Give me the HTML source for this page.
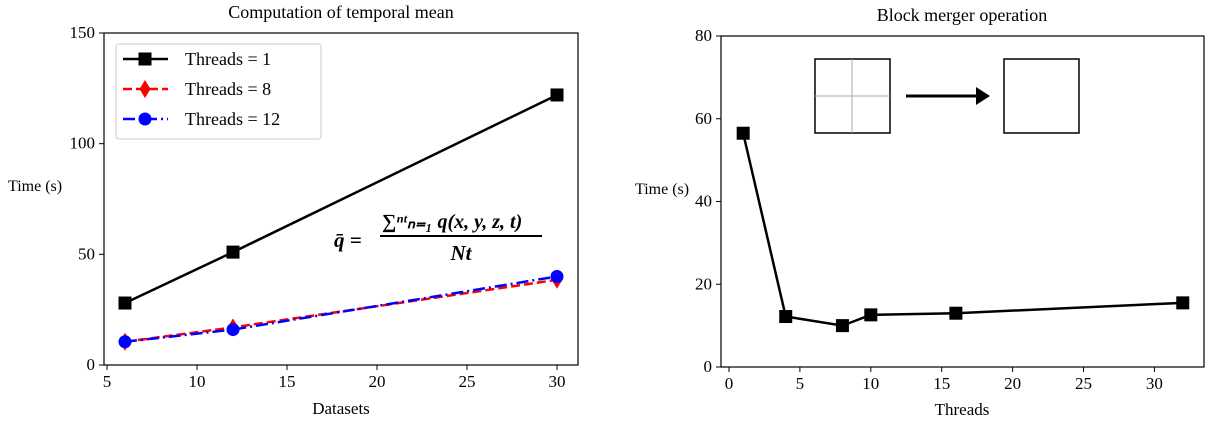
<!DOCTYPE html>
<html><head><meta charset="utf-8"><style>
body{margin:0;background:#fff}
svg text{font-family:"Liberation Serif",serif;fill:#000}
</style></head><body>
<svg width="1209" height="420" xmlns="http://www.w3.org/2000/svg">
<g id="left"></g>
<g id="right"></g>
</svg>
<script>
const leftX=[6,12,30];
const t1=[28,51,122];
const t8=[10.5,17,38.5];
const t12=[10.5,16,40];
const leftXTicks=[5,10,15,20,25,30];
const leftYTicks=[0,50,100,150];
const rightX=[1,4,8,10,16,32];
const rightY=[56.5,12.2,10,12.6,13,15.5];
const rightXTicks=[0,5,10,15,20,25,30];
const rightYTicks=[0,20,40,60,80];
const NS="http://www.w3.org/2000/svg";
function mk(p,tag,a,txt){const e=document.createElementNS(NS,tag);for(const k in a)e.setAttribute(k,a[k]);if(txt!==undefined)e.textContent=txt;p.appendChild(e);return e;}
function marker(g,type,x,y,c){let e;
 if(type==='s')e=mk(g,'rect',{x:x-6.5,y:y-6.5,width:13,height:13,fill:c});
 else if(type==='d')e=mk(g,'polygon',{points:`${x},${y-9} ${x+5.5},${y} ${x},${y+9} ${x-5.5},${y}`,fill:c});
 else e=mk(g,'circle',{cx:x,cy:y,r:6.5,fill:c});
 
 }
const L=document.getElementById('left');
const lx=v=>233+(v-12)*18, ly=v=>365-v*(365-33)/150;
function series(g,xs,ys,fx,fy,c,dash,m,name){
 const pl=mk(g,'polyline',{points:xs.map((v,i)=>fx(v)+','+fy(ys[i])).join(' '),fill:'none',stroke:c,'stroke-width':2.5,'stroke-dasharray':dash});
 
 
 xs.forEach((v,i)=>marker(g,m,fx(v),fy(ys[i]),c));}
series(L,leftX,t1,lx,ly,'#000','none','s','series-threads-1');
series(L,leftX,t8,lx,ly,'#f00','9 4','d','series-threads-8');
series(L,leftX,t12,lx,ly,'#00f','12 4 2 4','o','series-threads-12');
mk(L,'rect',{x:104,y:33,width:474,height:332,fill:'none',stroke:'#000','stroke-width':1.2});
leftXTicks.forEach(v=>{mk(L,'line',{x1:lx(v),x2:lx(v),y1:365,y2:370,stroke:'#000'});mk(L,'text',{x:lx(v),y:387,'text-anchor':'middle','font-size':17},v);});
leftYTicks.forEach(v=>{mk(L,'line',{x1:99,x2:104,y1:ly(v),y2:ly(v),stroke:'#000'});mk(L,'text',{x:95,y:ly(v)+5,'text-anchor':'end','font-size':17},v);});
mk(L,'text',{x:341,y:18,'text-anchor':'middle','font-size':18},'Computation of temporal mean');
mk(L,'text',{x:341,y:414,'text-anchor':'middle','font-size':17},'Datasets');
mk(L,'text',{x:8,y:191,'font-size':16},'Time (s)');
const lg=mk(L,'g',{});
mk(lg,'rect',{x:116,y:44,width:205,height:95,rx:3,fill:'#fff',stroke:'#ccc','stroke-width':1});
[['Threads = 1','#000','none','s'],['Threads = 8','#f00','9 4','d'],['Threads = 12','#00f','12 4 2 4','o']].forEach((r,i)=>{const y=59+i*30;
 mk(lg,'line',{x1:123,x2:168,y1:y,y2:y,stroke:r[1],'stroke-width':2.5,'stroke-dasharray':r[2]});
 marker(lg,r[3],145,y,r[1]);
 mk(lg,'text',{x:185,y:y+6,'font-size':18},r[0]);});
const fg=mk(L,'g',{'font-weight':'bold','font-style':'italic'});
mk(fg,'text',{x:334,y:247,'font-size':21},'q̄ =');
mk(fg,'text',{x:382,y:228,'font-size':20},'∑ⁿᵗₙ₌₁ q(x, y, z, t)');
mk(fg,'line',{x1:380,x2:542,y1:236,y2:236,stroke:'#000','stroke-width':2});
mk(fg,'text',{x:461,y:260,'font-size':21,'text-anchor':'middle'},'Nt');
const R=document.getElementById('right');
const rx=v=>729+v*14.18, ry=v=>367-v*(367-36)/80;
series(R,rightX,rightY,rx,ry,'#000','none','s','series-block-merger');
mk(R,'rect',{x:721,y:36,width:483,height:331,fill:'none',stroke:'#000','stroke-width':1.2});
rightXTicks.forEach(v=>{mk(R,'line',{x1:rx(v),x2:rx(v),y1:367,y2:372,stroke:'#000'});mk(R,'text',{x:rx(v),y:389,'text-anchor':'middle','font-size':17},v);});
rightYTicks.forEach(v=>{mk(R,'line',{x1:716,x2:721,y1:ry(v),y2:ry(v),stroke:'#000'});mk(R,'text',{x:712,y:ry(v)+5,'text-anchor':'end','font-size':17},v);});
mk(R,'text',{x:962,y:21,'text-anchor':'middle','font-size':18},'Block merger operation');
mk(R,'text',{x:962,y:415,'text-anchor':'middle','font-size':17},'Threads');
mk(R,'text',{x:635,y:194,'font-size':16},'Time (s)');
const ig=mk(R,'g',{});
mk(ig,'rect',{x:815,y:59,width:75,height:74,fill:'#fff',stroke:'#000','stroke-width':1.5});
mk(ig,'line',{x1:852,x2:852,y1:59,y2:133,stroke:'#aaa'});
mk(ig,'line',{x1:815,x2:890,y1:96,y2:96,stroke:'#aaa'});
mk(ig,'line',{x1:906,x2:978,y1:96,y2:96,stroke:'#000','stroke-width':3});
mk(ig,'polygon',{points:'976,87 990,96 976,105',fill:'#000'});
mk(ig,'rect',{x:1004,y:59,width:75,height:74,fill:'#fff',stroke:'#000','stroke-width':1.5});
</script>
</body></html>
